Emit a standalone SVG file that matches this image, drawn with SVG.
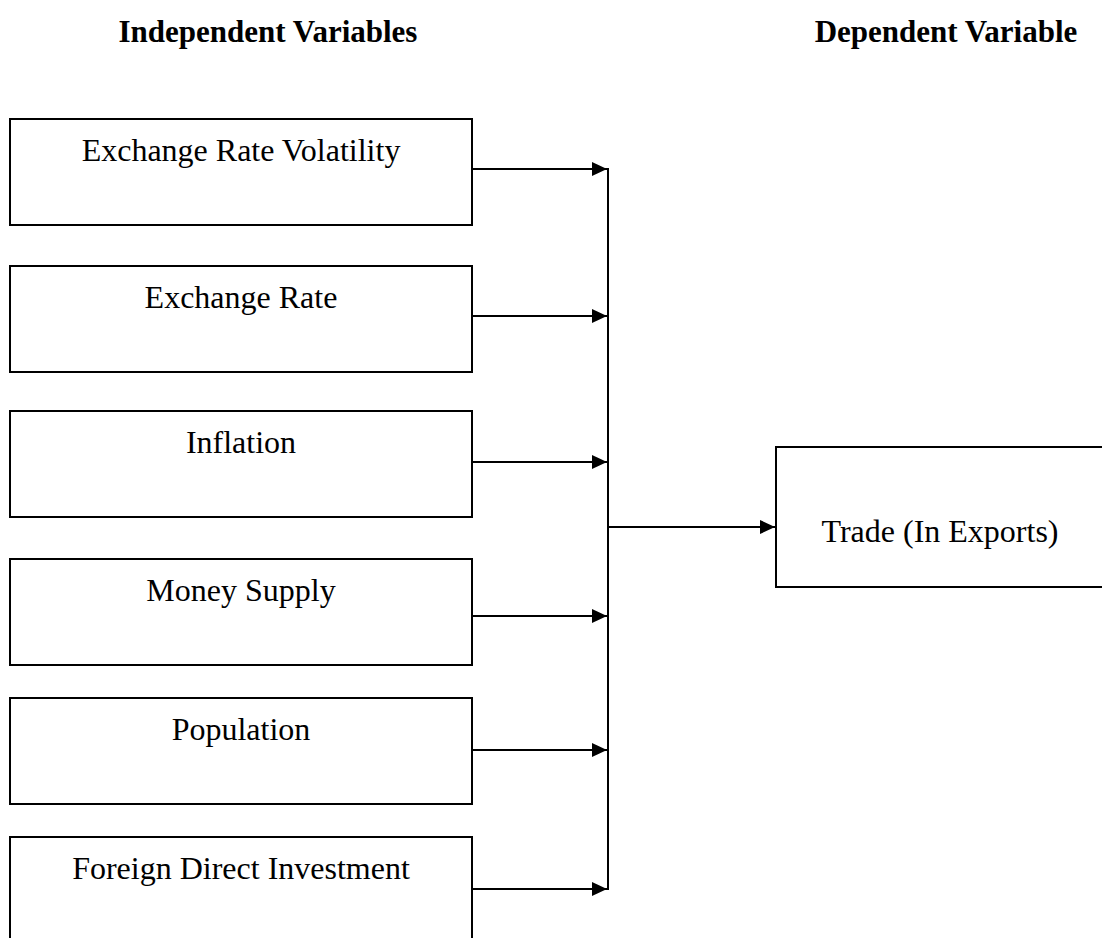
<svg xmlns="http://www.w3.org/2000/svg" width="1102" height="938" viewBox="0 0 1102 938">
<style>
.box{fill:#fff;stroke:#000;stroke-width:2}
.lbl{font-family:"Liberation Serif","Times New Roman",serif;font-size:32px;fill:#000;text-anchor:middle}
.hd{font-family:"Liberation Serif","Times New Roman",serif;font-size:31px;font-weight:bold;fill:#000;text-anchor:middle}
.ln{stroke:#000;stroke-width:2;fill:none}
</style>
<defs>
<marker id="ah" markerWidth="16" markerHeight="14" refX="15" refY="7" orient="auto" markerUnits="userSpaceOnUse">
<path d="M0,0 L15,7 L0,14 Z" fill="#000"/>
</marker>
</defs>
<g id="headings">
<text class="hd" x="268" y="42">Independent Variables</text>
<text class="hd" x="946" y="42">Dependent Variable</text>
</g>
<g id="n1"><rect class="box" x="10" y="119" width="462" height="106"/><text class="lbl" x="241" y="161">Exchange Rate Volatility</text></g>
<g id="n2"><rect class="box" x="10" y="266" width="462" height="106"/><text class="lbl" x="241" y="308">Exchange Rate</text></g>
<g id="n3"><rect class="box" x="10" y="411" width="462" height="106"/><text class="lbl" x="241" y="453">Inflation</text></g>
<g id="n4"><rect class="box" x="10" y="559" width="462" height="106"/><text class="lbl" x="241" y="601">Money Supply</text></g>
<g id="n5"><rect class="box" x="10" y="698" width="462" height="106"/><text class="lbl" x="241" y="740">Population</text></g>
<g id="n6"><rect class="box" x="10" y="837" width="462" height="120"/><text class="lbl" x="241" y="879">Foreign Direct Investment</text></g>
<g id="trade"><rect class="box" x="776" y="447" width="330" height="140"/><text class="lbl" x="940" y="542">Trade (In Exports)</text></g>
<g id="connectors">
<line class="ln" x1="472" y1="169" x2="607" y2="169" marker-end="url(#ah)"/>
<line class="ln" x1="472" y1="316" x2="607" y2="316" marker-end="url(#ah)"/>
<line class="ln" x1="472" y1="462" x2="607" y2="462" marker-end="url(#ah)"/>
<line class="ln" x1="472" y1="616" x2="607" y2="616" marker-end="url(#ah)"/>
<line class="ln" x1="472" y1="750" x2="607" y2="750" marker-end="url(#ah)"/>
<line class="ln" x1="472" y1="889" x2="607" y2="889" marker-end="url(#ah)"/>
<line class="ln" x1="608" y1="168" x2="608" y2="890"/>
<line class="ln" x1="608" y1="527" x2="775" y2="527" marker-end="url(#ah)"/>
</g>
</svg>
